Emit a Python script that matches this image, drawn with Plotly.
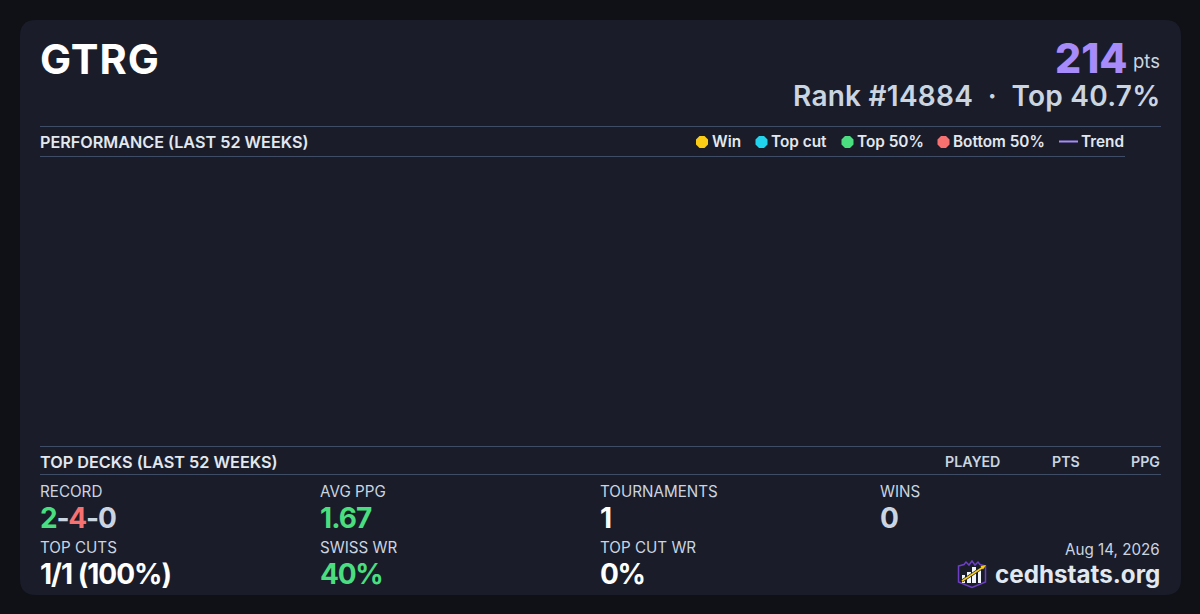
import json
import plotly.graph_objects as go

player = "GTRG"
points = "214"
rank_line = "Rank #14884  ·  Top 40.7%"
perf_title = "PERFORMANCE (LAST 52 WEEKS)"
decks_title = "TOP DECKS (LAST 52 WEEKS)"
deck_columns = ["PLAYED", "PTS", "PPG"]
legend_labels = ["Win", "Top cut", "Top 50%", "Bottom 50%"]
legend_colors = ["#facc15", "#22d3ee", "#4ade80", "#f87171"]
stat_labels = ["RECORD", "AVG PPG", "TOURNAMENTS", "WINS", "TOP CUTS", "SWISS WR", "TOP CUT WR"]

GREEN = "#4ade80"
RED = "#f87171"
GREY = "#cbd5e1"
WHITE = "#ffffff"
PURPLE = "#a78bfa"
LINE = "#3f4c66"
FONT = "Inter"

stat_values = [
    f'<span style="color:{GREEN}">2</span>-<span style="color:{RED}">4</span>-0',
    "1.67", "1", "0", "1/1 (100%)", "40%", "0%",
]
stat_colors = [GREY, GREEN, WHITE, GREY, WHITE, GREEN, WHITE]
stat_x = [40, 320, 600, 880, 40, 320, 600]
label_y = [491, 491, 491, 491, 547, 547, 547]
value_y = [518, 518, 518, 518, 574, 574, 574]

# plotly has no letter spacing setting, applied after the plot is drawn
spacing = {"GTRG": 1, "2-4-0": -1.2, "1.67": -0.9, "1/1 (100%)": -1, "40%": -1.3, "0%": -1.3,
           "Rank #14884\u00a0\u00a0·\u00a0\u00a0Top 40.7%": 0.25}

fig = go.Figure()


def text(x, y, s, size, color, weight=400, anchor="left"):
    fig.add_annotation(x=x, y=y, text=s, showarrow=False, xref="x", yref="y",
                       xanchor=anchor, yanchor="middle", borderpad=0, borderwidth=0,
                       font=dict(family=FONT, size=size, color=color, weight=weight))


# card
fig.add_shape(type="path", xref="x", yref="y", line=dict(width=0), fillcolor="#1a1d29", layer="below",
              path="M36 20 H1165 Q1181 20 1181 36 V579 Q1181 595 1165 595 H36 Q20 595 20 579 V36 Q20 20 36 20 Z")

# rules
for x1, y in [(1161, 126.5), (1125, 156.5), (1161, 446.5), (1161, 474.5)]:
    fig.add_shape(type="line", x0=40, x1=x1, y0=y, y1=y, xref="x", yref="y", line=dict(color=LINE, width=1))

# header
text(40, 59, player, 41.5, WHITE, 700)
text(1126.5, 58, points, 41, PURPLE, 800, "right")
text(1160, 61, "pts", 18.5, GREY, 400, "right")
text(1154, 96, rank_line.replace("  ", "&nbsp;&nbsp;"), 28, GREY, 600, "right")  # spacing pushes it out to 1160

# section titles
text(40, 142, perf_title, 16.2, "#e2e8f0", 600)
text(40, 462, decks_title, 16.25, "#e2e8f0", 600)
for x, s in zip([1000, 1080, 1160], deck_columns):
    text(x, 461, s, 14.2, GREY, 600, "right")

# legend
dot_x = [702, 761.5, 847.5, 943.5]
text_x = [712, 771, 857, 953]
fig.add_trace(go.Scatter(x=dot_x, y=[142] * 4, mode="markers", hoverinfo="skip", showlegend=False,
                         marker=dict(size=13, color=legend_colors, symbol="octagon", line=dict(width=0))))
for x, s in zip(text_x, legend_labels):
    text(x, 141, s, 15.35, "#e2e8f0", 600)
fig.add_shape(type="line", x0=1059, x1=1078, y0=141.5, y1=141.5, xref="x", yref="y", line=dict(color=PURPLE, width=2))
text(1081, 141, "Trend", 15.35, "#e2e8f0", 600)

# stats
for x, y, s in zip(stat_x, label_y, stat_labels):
    text(x, y, s, 15.2, GREY, 400)
for x, y, s, c in zip(stat_x, value_y, stat_values, stat_colors):
    text(x, y, s, 28, c, 700)

# footer
text(1160, 549, "Aug 14, 2026", 15.2, GREY, 400, "right")
text(1160, 574, "cedhstats.org", 24.2, "#e2e8f0", 700, "right")

# logo
fig.add_shape(type="path", xref="x", yref="y", line=dict(color="#6d3fc4", width=1.5), fillcolor="rgba(0,0,0,0)",
              path="M958.5 566 L964 564.5 L966 562 L969 565 L972 561 L975 565 L978 562 L980 564.5 L985.5 566 V582 L972 587.5 L958.5 582 Z")
for x0, y0, w in [(962, 575, 3), (967, 572, 4), (972, 567, 4), (978, 570, 3)]:
    fig.add_shape(type="rect", x0=x0, x1=x0 + w, y0=y0, y1=583, xref="x", yref="y",
                  line=dict(width=0), fillcolor="#f1f5f9")
fig.add_shape(type="line", x0=962, y0=581, x1=984, y1=566.5, xref="x", yref="y", line=dict(color="#1a1d29", width=3))
fig.add_shape(type="line", x0=962, y0=581, x1=984, y1=566.5, xref="x", yref="y", line=dict(color="#facc15", width=1.5))
fig.add_shape(type="path", xref="x", yref="y", line=dict(width=0), fillcolor="#facc15",
              path="M986 565 L980.5 566 L983 569.5 Z")

fig.update_layout(
    width=1200, height=614,
    margin=dict(l=0, r=0, t=0, b=0),
    paper_bgcolor="#0f1116", plot_bgcolor="#0f1116",
    xaxis=dict(range=[0, 1200], visible=False, fixedrange=True),
    yaxis=dict(range=[614, 0], visible=False, fixedrange=True),
    showlegend=False,
)

# text is centred on its x, so move it back to keep the left edge where it was
post = """
document.body.style.margin='0';document.body.style.overflow='hidden';document.body.style.background='#0f1116';
var spacing = %s;
document.querySelectorAll('.annotation-text').forEach(function(el){
  var ls = spacing[el.textContent];
  if (ls === undefined) return;
  var a = el.getBBox();
  el.style.letterSpacing = ls + 'px';
  var b = el.getBBox();
  el.setAttribute('x', parseFloat(el.getAttribute('x')) + a.x - b.x);
});
""" % json.dumps(spacing)

fig.write_html("out.html", config=dict(displayModeBar=False), post_script=post)
